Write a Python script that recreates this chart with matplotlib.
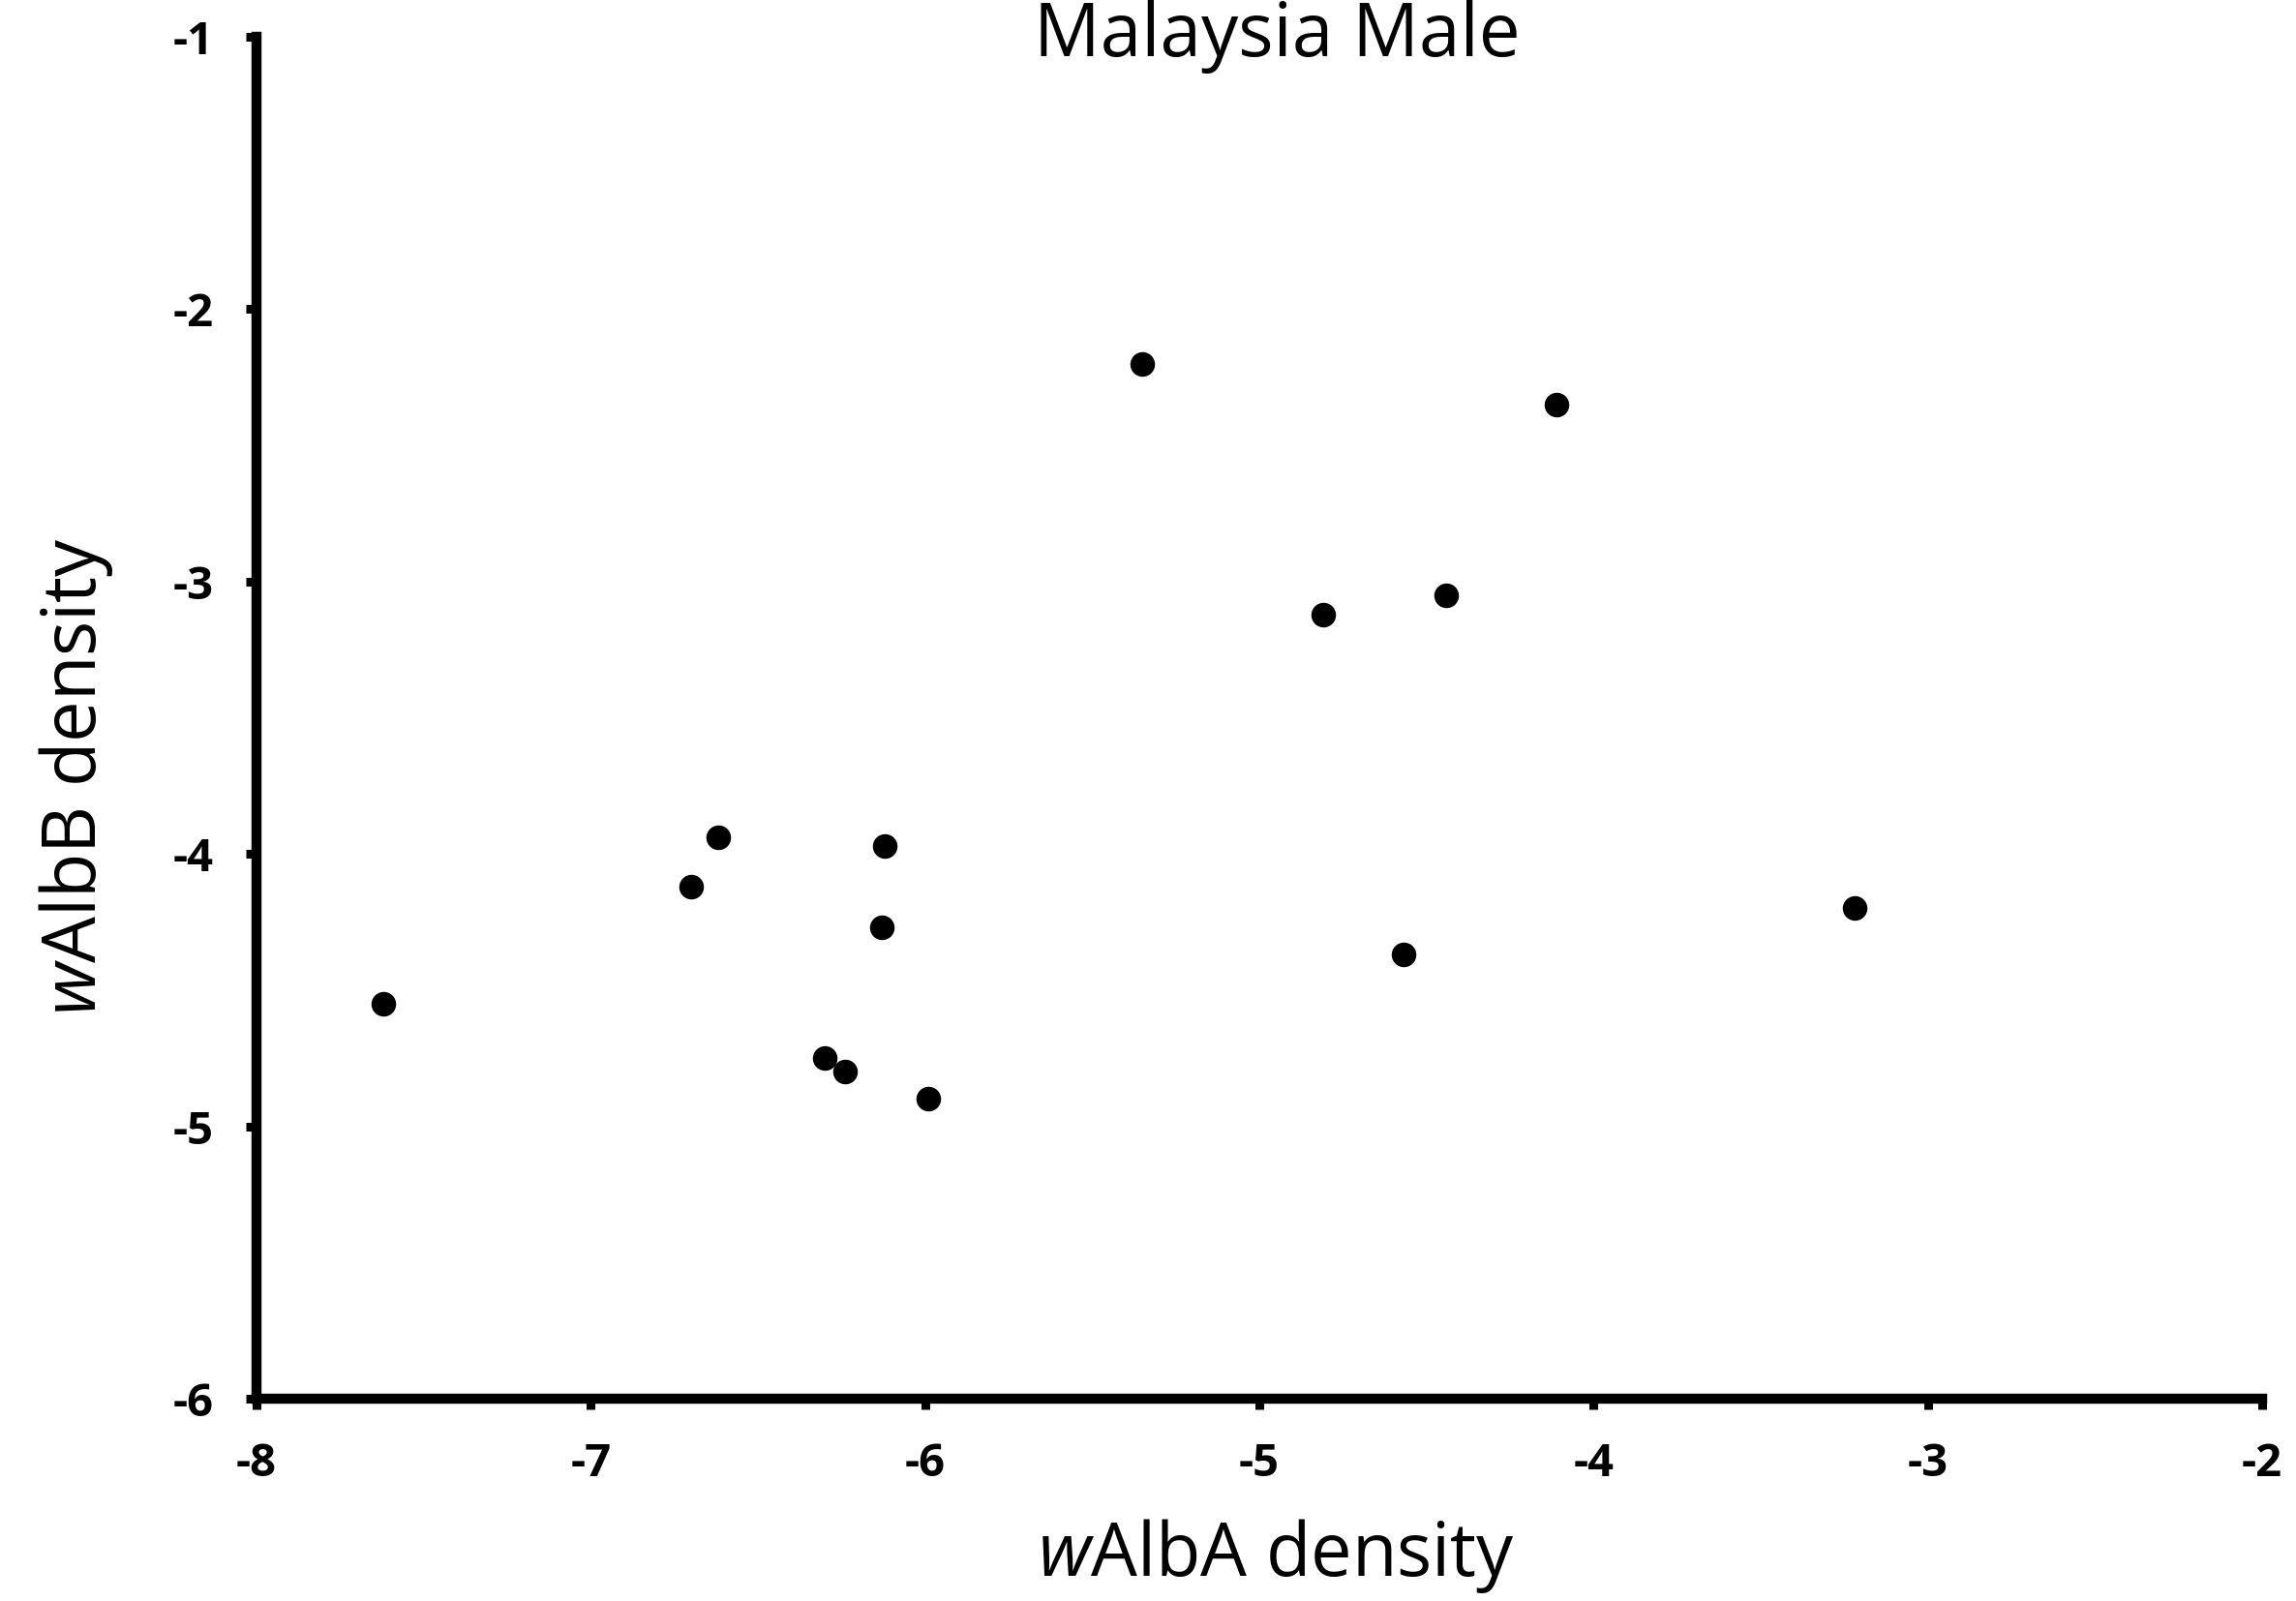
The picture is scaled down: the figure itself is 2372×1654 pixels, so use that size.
import matplotlib.pyplot as plt

plt.rcParams['font.family'] = 'Open Sans'
plt.rcParams['mathtext.fontset'] = 'custom'
plt.rcParams['mathtext.it'] = 'Open Sans:italic'
plt.rcParams['mathtext.rm'] = 'Open Sans'

# wAlbA vs wAlbB density (log values)
walba = [-7.62, -6.70, -6.62, -6.30, -6.24, -6.12, -6.13, -5.99,
         -5.35, -4.81, -4.44, -4.57, -4.11, -3.22]
walbb = [-4.55, -4.12, -3.94, -4.75, -4.80, -3.97, -4.27, -4.90,
         -2.20, -3.12, -3.05, -4.37, -2.35, -4.20]

x_ticks = [-8, -7, -6, -5, -4, -3, -2]
y_ticks = [-6, -5, -4, -3, -2, -1]

fig = plt.figure(figsize=(23.72, 16.54), dpi=100)
ax = fig.add_axes([0.1117, 0.1264, 0.8736, 0.8506])

ax.scatter(walba, walbb, s=300, c='black', zorder=3)

ax.set_xlim(-8, -2)
ax.set_ylim(-6, -1)
ax.set_xticks(x_ticks)
ax.set_yticks(y_ticks)
ax.set_xticklabels([str(t) for t in x_ticks], fontweight='bold', fontsize=34)
ax.set_yticklabels([str(t) for t in y_ticks], fontweight='bold', fontsize=34)

for side in ['top', 'right']:
    ax.spines[side].set_visible(False)
for side in ['left', 'bottom']:
    ax.spines[side].set_linewidth(7.5)
    ax.spines[side].set_capstyle('projecting')
ax.tick_params(axis='both', direction='out', length=8, width=6.5, pad=24)

fig.text(0.556, 0.028, r'$\mathit{w}$AlbA density', fontsize=54.5, ha='center', va='center')
fig.text(0.033, 0.515, r'$\mathit{w}$AlbB density', fontsize=54.5, ha='center', va='center',
         rotation=90)
fig.text(0.556, 1.0, 'Malaysia Male', fontsize=55, ha='center', va='top')

fig.savefig('out.png', dpi=100)
